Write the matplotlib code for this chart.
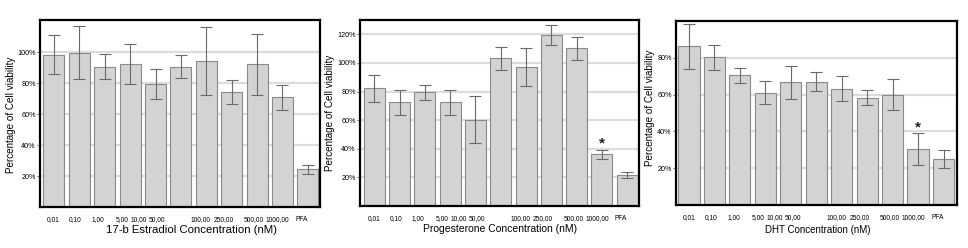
import matplotlib
matplotlib.use("Agg")
import matplotlib.pyplot as plt

plt.rcParams['font.family'] = ['Liberation Sans', 'DejaVu Sans']

categories = ["0,01", "0,10", "1,00", "5,00", "10,00", "50,00", "100,00",
              "250,00", "500,00", "1000,00", "PFA"]

estradiol_vals = [98.5, 99.8, 90.7, 92.2, 79.4, 90.7, 94.4, 74.4, 92.2, 70.9, 24.3]
estradiol_err = [12.3, 17.4, 8.3, 12.9, 9.5, 7.6, 22.2, 7.8, 19.7, 8.2, 2.9]

progesterone_vals = [82.2, 72.4, 79.4, 72.4, 60.4, 103.1, 97.0, 119.3, 110.1, 36.0, 21.7]
progesterone_err = [9.4, 8.5, 5.3, 9.0, 16.7, 7.7, 13.2, 7.0, 8.3, 3.2, 1.9]

dht_vals = [86.2, 80.2, 70.4, 61.1, 66.6, 67.1, 63.3, 58.4, 60.0, 30.5, 25.1]
dht_err = [12.2, 6.6, 4.2, 6.2, 8.9, 5.3, 7.0, 4.3, 8.6, 8.6, 4.8]

# tick label positions (the original labels are not centred under the bars)
tick_positions = [-0.03, 0.84, 1.73, 2.69, 3.33, 4.05, 5.76, 6.67, 7.86, 8.80, 9.75]

W, H = 968, 248
fig = plt.figure(figsize=(W / 100, H / 100), dpi=100)

panels = [
    dict(box=(40, 320, 20, 207), ylim=(0, 120.8), xlim=(-0.55, 10.48),
         yticks=[20, 40, 60, 80, 100], vals=estradiol_vals, err=estradiol_err,
         xlabel="17-b Estradiol Concentration (nM)", xls=8.2, xlc=(192, 230),
         ylc=(11, 115), star=None, tshift=0.0),
    dict(box=(360, 639, 20, 206), ylim=(0, 130), xlim=(-0.57, 10.47),
         yticks=[20, 40, 60, 80, 100, 120], vals=progesterone_vals, err=progesterone_err,
         xlabel="Progesterone Concentration (nM)", xls=7.5, xlc=(500.5, 229),
         ylc=(330, 112.5), star=9, tshift=0.01),
    dict(box=(676, 957, 21, 205), ylim=(0, 100), xlim=(-0.51, 10.53),
         yticks=[20, 40, 60, 80], vals=dht_vals, err=dht_err,
         xlabel="DHT Concentration (nM)", xls=7.0, xlc=(817.5, 230),
         ylc=(650, 108), star=9, tshift=0.03),
]

for p in panels:
    l, r, t, b = p["box"]
    ax = fig.add_axes([l / W, (H - b) / H, (r - l) / W, (b - t) / H])
    x = list(range(len(categories)))
    ax.set_axisbelow(True)
    ax.yaxis.grid(True, color="#dcdcdc", linewidth=1.6)
    ax.bar(x, p["vals"], width=0.83, color="#d3d3d3", edgecolor="#8a8a8a",
           linewidth=0.8, zorder=2)
    ax.errorbar(x, p["vals"], yerr=p["err"], fmt="none", ecolor="#6a6a6a",
                elinewidth=0.8, capsize=4.3, capthick=0.8, zorder=3)
    ax.set_xlim(*p["xlim"])
    ax.set_ylim(*p["ylim"])
    ax.set_yticks(p["yticks"])
    ax.set_yticklabels([f"{v}%" for v in p["yticks"]], fontsize=5.2)
    ax.set_xticks([tp + p["tshift"] for tp in tick_positions])
    ax.set_xticklabels(categories, fontsize=4.8)
    ax.tick_params(axis="x", length=0, pad=6.5)
    ax.tick_params(axis="y", length=2, width=0.6, pad=1, color="#555555")
    for s in ax.spines.values():
        s.set_linewidth(1.6)
        s.set_color("black")
    ax.set_xlabel(p["xlabel"], fontsize=p["xls"])
    ax.xaxis.set_label_coords((p["xlc"][0] - l) / (r - l), (b - p["xlc"][1]) / (b - t))
    ax.xaxis.label.set_va("center")
    ax.set_ylabel("Percentage of Cell viability", fontsize=7.1)
    ax.yaxis.set_label_coords((p["ylc"][0] - l) / (r - l), (b - p["ylc"][1]) / (b - t))
    ax.yaxis.label.set_va("center")
    if p["star"] is not None:
        i = p["star"]
        ax.annotate("*", xy=(i, p["vals"][i] + p["err"][i]), xytext=(0, 1.5),
                    textcoords="offset points", ha="center", va="baseline",
                    fontsize=11, fontweight="bold", color="#222222")

fig.savefig("out.png", dpi=100)
